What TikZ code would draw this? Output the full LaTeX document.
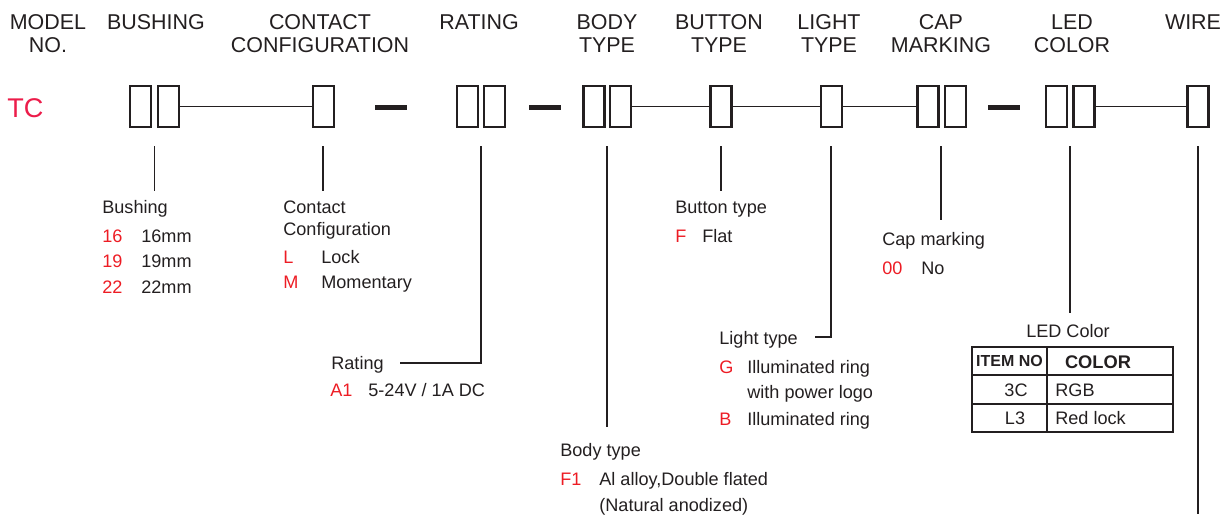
\documentclass[tikz,border=0pt]{standalone}
\usepackage{fontspec}
\setmainfont{Liberation Sans}
\definecolor{ink}{RGB}{35,31,32}
\definecolor{tcred}{RGB}{236,28,74}
\definecolor{codered}{RGB}{237,28,36}
\tikzset{
  slot/.style={draw=ink, line width=1.3pt, minimum width=0.42cm, minimum height=0.82cm, inner sep=0pt},
  dashbar/.style={fill=ink, minimum width=0.64cm, minimum height=0.1cm, inner sep=0pt},
  link/.style={draw=ink, line width=1.1pt},
  drop/.style={draw=ink, line width=1.0pt},
  head/.style={font=\fontsize{12.2}{13}\selectfont, text=ink, inner sep=0pt, anchor=base},
  txt/.style={font=\fontsize{10.3}{12}\selectfont, text=ink, inner sep=0pt, anchor=base west},
  code/.style={txt, text=codered},
}
\begin{document}
\begin{tikzpicture}[x=0.02cm, y=-0.02cm]
        \useasboundingbox (0,0) rectangle (1230,514);

        % Column headings
        \node[head] (hmodel) at (48,29) {MODEL};
        \node[head] (hmodelb) at (48,52) {NO.};
        \node[head] (hbush) at (156,29) {BUSHING};
        \node[head] (hcont) at (320,29) {CONTACT};
        \node[head] (hcontb) at (320,52) {CONFIGURATION};
        \node[head] (hrate) at (479,29) {RATING};
        \node[head] (hbody) at (607,29) {BODY};
        \node[head] (hbodyb) at (607,52) {TYPE};
        \node[head] (hbutt) at (719,29) {BUTTON};
        \node[head] (hbuttb) at (719,52) {TYPE};
        \node[head] (hlight) at (829,29) {LIGHT};
        \node[head] (hlightb) at (829,52) {TYPE};
        \node[head] (hcap) at (941,29) {CAP};
        \node[head] (hcapb) at (941,52) {MARKING};
        \node[head] (hled) at (1072,29) {LED};
        \node[head] (hledb) at (1072,52) {COLOR};
        \node[head] (hwire) at (1193,29) {WIRE};

        % Model number and code boxes
        \node[anchor=base west, inner sep=0pt, text=tcred, font=\fontsize{15.4}{16}\selectfont] (tc) at (7,117) {TC};
        \node[slot] (bush1) at (140.5,106.5) {};
        \node[slot] (bush2) at (168.5,106.5) {};
        \node[slot] (cont) at (323.5,106.5) {};
        \node[dashbar] (dash1) at (391,107) {};
        \node[slot] (rate1) at (467.5,106.5) {};
        \node[slot] (rate2) at (494.5,106.5) {};
        \node[dashbar] (dash2) at (545,107) {};
        \node[slot] (body1) at (594,106.5) {};
        \node[slot] (body2) at (620.5,106.5) {};
        \node[slot] (butt) at (721,106.5) {};
        \node[slot] (light) at (831.5,106.5) {};
        \node[slot] (cap1) at (928,106.5) {};
        \node[slot] (cap2) at (955.5,106.5) {};
        \node[dashbar] (dash3) at (1003.5,107) {};
        \node[slot] (led1) at (1056.5,106.5) {};
        \node[slot] (led2) at (1084,106.5) {};
        \node[slot] (wire) at (1198,106.5) {};

        % Links between boxes
        \draw[link] (bush2) -- (cont);
        \draw[link] (body2) -- (butt);
        \draw[link] (butt) -- (light);
        \draw[link] (light) -- (cap1);
        \draw[link] (led2) -- (wire);

        % Drop lines
        \coordinate (ratingend) at (400,363);
        \coordinate (lightend) at (815,337);
        \draw[drop] (154.5,146) -- (154.5,191);
        \draw[drop] (323,146) -- (323,191);
        \draw[drop] (481,146) |- (ratingend);
        \draw[drop] (607,146) -- (607,427);
        \draw[drop] (721,146) -- (721,191);
        \draw[drop] (831,146) |- (lightend);
        \draw[drop] (941,146) -- (941,220);
        \draw[drop] (1070,146) -- (1070,313);
        \draw[drop] (1198,146) -- (1198,514);

        % Bushing
        \node[txt] (lbush) at (102,213) {Bushing};
        \node[code] (c16) at (102,242) {16};
        \node[txt] at (141,242) {16mm};
        \node[code] (c19) at (102,267) {19};
        \node[txt] at (141,267) {19mm};
        \node[code] (c22) at (102,293) {22};
        \node[txt] at (141,293) {22mm};

        % Contact configuration
        \node[txt] (lcont) at (283,213) {Contact};
        \node[txt] at (283,235) {Configuration};
        \node[code] (cl) at (283,263) {L};
        \node[txt] at (321,263) {Lock};
        \node[code] (cm) at (283,288) {M};
        \node[txt] at (321,288) {Momentary};

        % Rating
        \node[txt] (lrate) at (331,369) {Rating};
        \node[code] (ca1) at (330,396) {A1};
        \node[txt] at (368,396) {5-24V / 1A DC};

        % Button type
        \node[txt] (lbutt) at (675,213) {Button type};
        \node[code] (cf) at (675,242) {F};
        \node[txt] at (702,242) {Flat};

        % Cap marking
        \node[txt] (lcap) at (882,245) {Cap marking};
        \node[code] (c00) at (882,274) {00};
        \node[txt] at (921,274) {No};

        % Light type
        \node[txt] (llight) at (719,344) {Light type};
        \node[code] (cg) at (719,373) {G};
        \node[txt] at (747,373) {Illuminated ring};
        \node[txt] at (747,398) {with power logo};
        \node[code] (cb) at (719,425) {B};
        \node[txt] at (747,425) {Illuminated ring};

        % Body type
        \node[txt] (lbody) at (560,456) {Body type};
        \node[code] (cf1) at (560,485) {F1};
        \node[txt] at (599,485) {Al alloy,Double flated};
        \node[txt] at (599,511) {(Natural anodized)};

        % LED color table
        \node[txt, anchor=base] (lled) at (1068,337) {LED Color};
        \draw[ink, line width=1.3pt] (972,347) rectangle (1173,432);
        \draw[ink, line width=1.3pt] (972,375) -- (1173,375);
        \draw[ink, line width=1.3pt] (972,404) -- (1173,404);
        \draw[ink, line width=1.3pt] (1047,347) -- (1047,432);
        \node[txt, anchor=base, font=\fontsize{9.1}{10}\selectfont\bfseries] at (1009.5,366) {ITEM NO};
        \node[txt, anchor=base, font=\fontsize{10.4}{12}\selectfont\bfseries] at (1098,368) {COLOR};
        \node[txt, anchor=base] at (1016,396) {3C};
        \node[txt, anchor=base] at (1015,424) {L3};
        \node[txt] at (1055,396) {RGB};
        \node[txt] at (1055,424) {Red lock};
    \end{tikzpicture}
\end{document}
